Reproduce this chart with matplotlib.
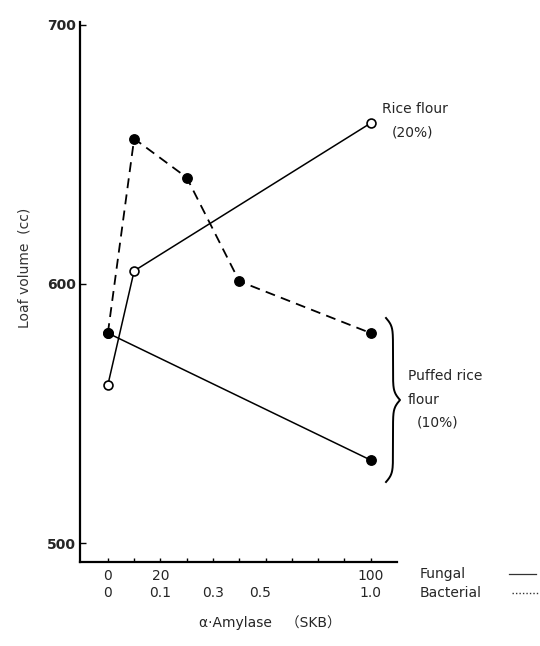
import numpy as np
import matplotlib
matplotlib.use("Agg")
import matplotlib.pyplot as plt
from matplotlib.lines import Line2D

plt.rcParams['font.family'] = ['DejaVu Sans', 'Noto Sans CJK JP']

# ---- data (x in fungal SKB units; bacterial SKB = fungal / 100) ----
rice_fungal_x = [0, 10, 100]
rice_fungal_y = [561, 605, 662]

puffed_fungal_x = [0, 100]
puffed_fungal_y = [581, 532]

puffed_bacterial_x = [0, 0.1, 0.3, 0.5, 1.0]
puffed_bacterial_y = [581, 656, 641, 601, 581]

fungal_ticks = [0, 10, 20, 30, 40, 50, 60, 70, 80, 90, 100]
fungal_labels = ['0', '', '20', '', '', '', '', '', '', '', '100']
bacterial_labels = ['0', '0.1', '0.3', '0.5', '1.0']
bacterial_label_pos = [0, 0.2, 0.4, 0.58, 1.0]   # where the reference prints them
y_ticks = [500, 600, 700]

TXT = '#262626'
FS = 10
W, H = 540, 646

fig = plt.figure(figsize=(W / 100, H / 100), dpi=100)
ax = fig.add_axes([80 / W, (H - 562) / H, 317 / W, 540 / H])

# solid fungal lines
ax.plot(rice_fungal_x, rice_fungal_y, color='black', lw=1.1,
        marker='o', ms=6.4, mfc='white', mec='black', mew=1.2, zorder=3)
ax.plot(puffed_fungal_x, puffed_fungal_y, color='black', lw=1.1,
        marker='o', ms=6.8, mfc='black', mec='black', zorder=3)
# dashed bacterial line (plotted on fungal scale)
bx = [v * 100 for v in puffed_bacterial_x]
ln, = ax.plot(bx, puffed_bacterial_y, color='black', lw=1.3,
              marker='o', ms=6.8, mfc='black', mec='black', zorder=3)
ln.set_dashes((5.5, 3.5))

ax.set_xlim(-10.6, 110)
ax.set_ylim(492.7, 701)

for s in ['top', 'right']:
    ax.spines[s].set_visible(False)
for s in ['left', 'bottom']:
    ax.spines[s].set_linewidth(1.6)
    ax.spines[s].set_color('black')

ax.set_yticks(y_ticks)
ax.set_yticklabels([str(v) for v in y_ticks], fontsize=10, fontweight='bold', color=TXT)
ax.tick_params(axis='y', direction='in', length=4, width=1, pad=3)

ax.set_xticks(fungal_ticks)
ax.set_xticklabels(fungal_labels, fontsize=FS, color=TXT)
ax.tick_params(axis='x', direction='in', length=3, width=1, pad=5)

# bacterial tick label row
xt = ax.get_xaxis_transform()
for p, lab in zip(bacterial_label_pos, bacterial_labels):
    ax.text(p * 100, (562 - 593) / 540, lab, transform=xt, ha='center', va='center',
            fontsize=FS, color=TXT, clip_on=False)

def fx(px):
    return px / W

def fy(py):
    return 1 - py / H

# axis labels
fig.text(fx(25), fy(268), 'Loaf volume  (cc)', rotation=90, ha='center', va='center',
         fontsize=FS, color='#333333')
fig.text(fx(270), fy(623), '\u03b1\u00b7Amylase\u3000\uff08SKB\uff09', ha='center', va='center',
         fontsize=FS, color=TXT)

# annotations
fig.text(fx(382), fy(109), 'Rice flour', ha='left', va='center', fontsize=FS, color=TXT)
fig.text(fx(392), fy(133), '(20%)', ha='left', va='center', fontsize=FS, color=TXT)
fig.text(fx(408), fy(376), 'Puffed rice', ha='left', va='center', fontsize=FS, color=TXT)
fig.text(fx(408), fy(400), 'flour', ha='left', va='center', fontsize=FS, color=TXT)
fig.text(fx(417), fy(422), '(10%)', ha='left', va='center', fontsize=FS, color=TXT)

# curly brace (figure pixel coords)
half = np.linspace(0, 0.5, 200)
beta = 40.0
v = 1 / (1 + np.exp(-beta * (half - half[0]))) + 1 / (1 + np.exp(-beta * (half - half[-1])))
xn = v - 0.5  # 0..1, plateau at 0.5
x_left, x_tip = 386, 400
y_top, y_bot = 318, 482
xs_half = x_left + xn * (x_tip - x_left)
ys_half = y_top + half * (y_bot - y_top)
xs = np.concatenate([xs_half, xs_half[::-1]])
ys = np.concatenate([ys_half, y_top + (1 - half[::-1]) * (y_bot - y_top)])
fig.add_artist(Line2D(xs / W, 1 - ys / H, color='black', lw=1.4, transform=fig.transFigure))

# legend
fig.text(fx(420), fy(574), 'Fungal', ha='left', va='center', fontsize=FS, color=TXT)
fig.text(fx(420), fy(593), 'Bacterial', ha='left', va='center', fontsize=FS, color=TXT)
fig.add_artist(Line2D([fx(509), fx(536)], [fy(574), fy(574)], color='#333333', lw=0.9,
                      transform=fig.transFigure))
fig.add_artist(Line2D([fx(512), fx(540)], [fy(593), fy(593)], color='#333333', lw=1.0,
                      linestyle=(0, (1, 1.5)), transform=fig.transFigure))

fig.savefig('out.png', dpi=100, facecolor='white')
